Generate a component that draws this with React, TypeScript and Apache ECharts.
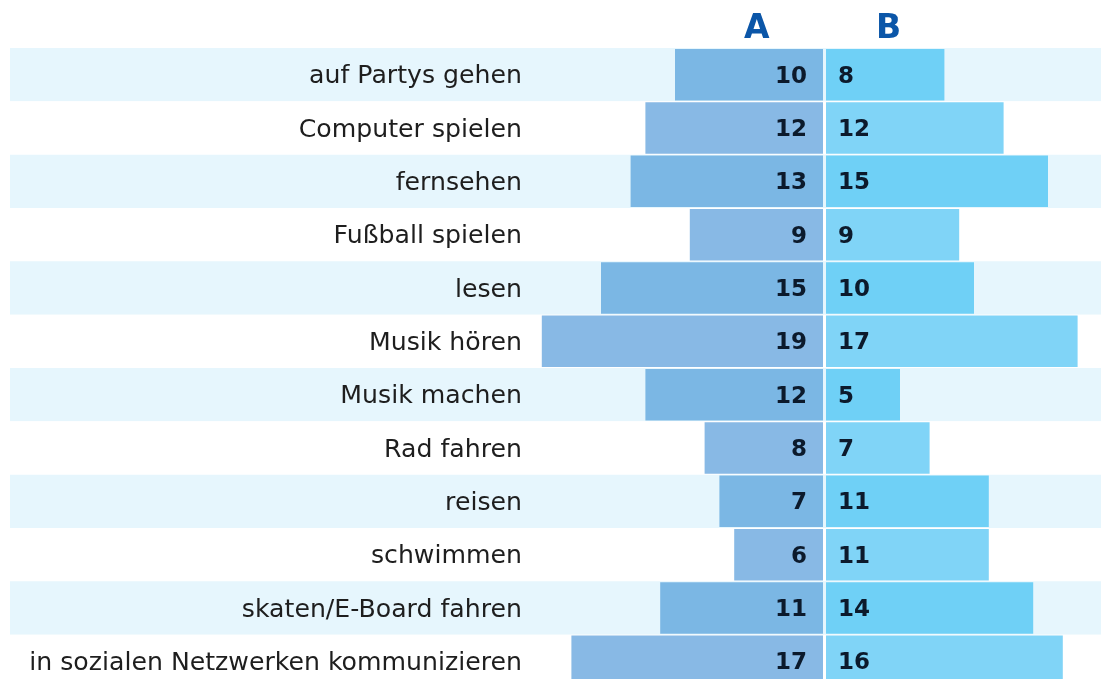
import React, { useEffect, useRef } from "react";
import * as echarts from "echarts";

const categories = [
  "auf Partys gehen",
  "Computer spielen",
  "fernsehen",
  "Fußball spielen",
  "lesen",
  "Musik hören",
  "Musik machen",
  "Rad fahren",
  "reisen",
  "schwimmen",
  "skaten/E-Board fahren",
  "in sozialen Netzwerken kommunizieren",
];
const valuesA = [10, 12, 13, 9, 15, 19, 12, 8, 7, 6, 11, 17];
const valuesB = [8, 12, 15, 9, 10, 17, 5, 7, 11, 11, 14, 16];
const headers = ["A", "B"];

const colorsA = ["#7bb7e4", "#88b9e5"];
const colorsB = ["#6fd0f6", "#80d4f7"];

export default function App() {
  const ref = useRef<HTMLDivElement>(null);
  useEffect(() => {
    if (!ref.current) return;
    const chart = echarts.init(ref.current, null, { renderer: "svg" });
    const top = 48;
    const height = 640;
    const rowFont = "DejaVu Sans";
    const valueLabel = {
      show: true,
      fontSize: 23,
      fontWeight: "bold",
      fontFamily: "DejaVu Sans",
      color: "#0c1a2c",
    };
    chart.setOption({
      animation: false,
      grid: [
        { left: 10, right: 0, top, height, outerBoundsMode: "none" },
        { left: 527, width: 296, top, height, outerBoundsMode: "none" },
        { left: 826, width: 296, top, height, outerBoundsMode: "none" },
      ],
      xAxis: [
        { gridIndex: 0, type: "value", show: false, min: 0, max: 1 },
        { gridIndex: 1, type: "value", show: false, min: 0, max: 20, inverse: true },
        { gridIndex: 2, type: "value", show: false, min: 0, max: 20 },
      ],
      yAxis: [
        {
          gridIndex: 0,
          type: "category",
          data: categories,
          inverse: true,
          axisLine: { show: false },
          axisTick: { show: false },
          axisLabel: { show: false },
          splitLine: { show: false },
          splitArea: { show: true, areaStyle: { color: ["#e6f6fd", "#ffffff"] } },
        },
        {
          gridIndex: 1,
          type: "category",
          data: categories,
          inverse: true,
          position: "left",
          axisLine: { show: false, onZero: false },
          axisTick: { show: false },
          splitLine: { show: false },
          axisLabel: {
            margin: 5,
            fontSize: 25.2,
            fontFamily: rowFont,
            color: "#1e1e1e",
          },
        },
        {
          gridIndex: 2,
          type: "category",
          data: categories,
          inverse: true,
          show: false,
        },
      ],
      graphic: [
        {
          type: "text",
          left: 757 - 13,
          top: 10,
          style: {
            text: headers[0],
            fontSize: 33,
            fontWeight: 900,
            fontFamily: "DejaVu Sans",
            fill: "#0b56a8",
          },
        },
        {
          type: "text",
          left: 888 - 12,
          top: 10,
          style: {
            text: headers[1],
            fontSize: 33,
            fontWeight: 900,
            fontFamily: "DejaVu Sans",
            fill: "#0b56a8",
          },
        },
      ],
      series: [
        {
          type: "bar",
          xAxisIndex: 1,
          yAxisIndex: 1,
          barWidth: 51.5,
          data: valuesA.map((v, i) => ({ value: v, itemStyle: { color: colorsA[i % 2] } })),
          label: { ...valueLabel, position: "insideRight", distance: 16 },
        },
        {
          type: "bar",
          xAxisIndex: 2,
          yAxisIndex: 2,
          barWidth: 51.5,
          data: valuesB.map((v, i) => ({ value: v, itemStyle: { color: colorsB[i % 2] } })),
          label: { ...valueLabel, position: "insideLeft", distance: 12 },
        },
      ],
    });
    return () => chart.dispose();
  }, []);
  return (
    <div
      ref={ref}
      style={{ position: "fixed", left: 0, top: 0, width: 1101, height: 679 }}
    />
  );
}
